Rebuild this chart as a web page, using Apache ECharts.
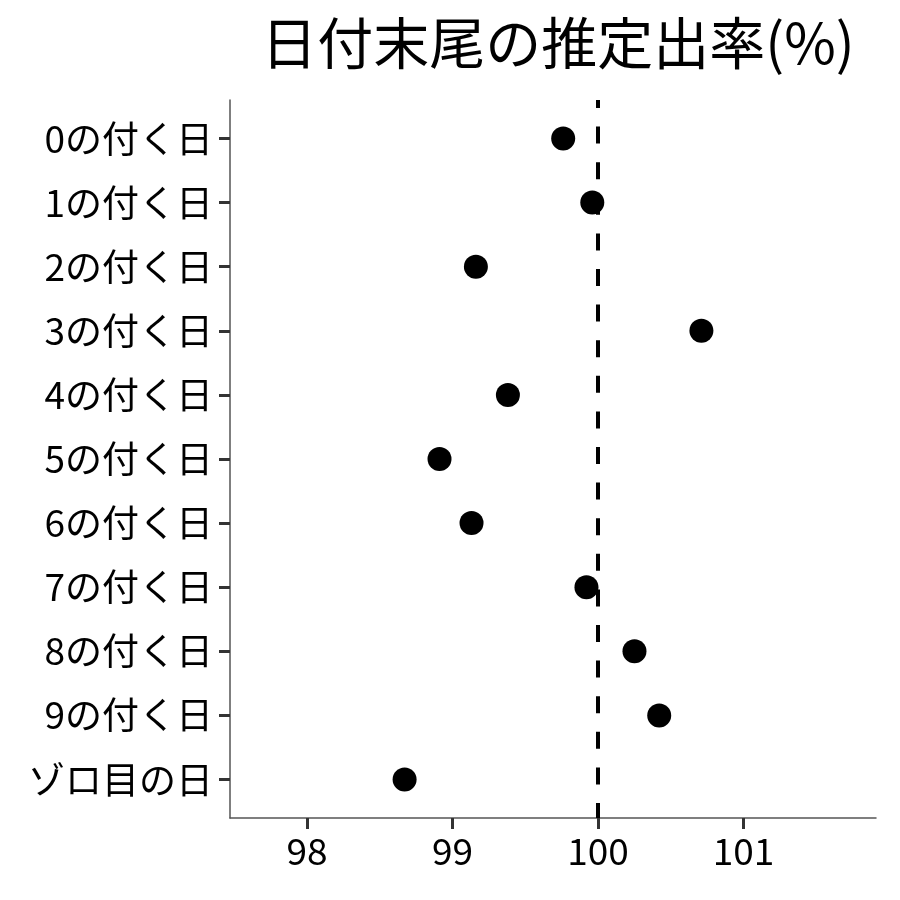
<!DOCTYPE html>
<html>
<head>
<meta charset="utf-8">
<script src="https://cdn.jsdelivr.net/npm/echarts@6/dist/echarts.min.js"></script>
<style>
	html, body { margin: 0; padding: 0; background: #fff; }
	#chart { width: 900px; height: 900px; }
</style>
</head>
<body>
<div id="chart"></div>
<script>
var categories = ['0の付く日', '1の付く日', '2の付く日', '3の付く日', '4の付く日',
	'5の付く日', '6の付く日', '7の付く日', '8の付く日', '9の付く日', 'ゾロ目の日'];
var rates = [99.76, 99.96, 99.16, 100.71, 99.38, 98.91, 99.13, 99.92, 100.25, 100.42, 98.67];
var xTicks = [98, 99, 100, 101];
var refValue = 100;

var font = '"Noto Sans CJK JP", "Noto Sans", sans-serif';

function drawChart(divId) {
	var myChart = echarts.init(document.getElementById(divId), null, {renderer: 'canvas'});

	var points = [];
	var idx = [];
	for (var i in categories) {
		points.push([rates[i], +i]);
		idx.push(+i);
	}

	myChart.setOption({
		animation: false,
		title: {
			text: '日付末尾の推定出率(%)',
			left: 553,
			textAlign: 'center',
			top: 10,
			textStyle: { fontFamily: font, fontSize: 56, fontWeight: 'normal', color: '#000' }
		},
		grid: { left: 230, right: 24, top: 100, bottom: 82 },
		xAxis: {
			type: 'value',
			min: 97.47,
			max: 101.91,
			splitLine: { show: false },
			axisLine: { onZero: false, lineStyle: { color: '#555', width: 1.5 } },
			axisTick: { customValues: xTicks, length: 11, lineStyle: { color: '#333', width: 3 } },
			axisLabel: {
				customValues: xTicks,
				margin: 14,
				fontFamily: font, fontSize: 37, color: '#000'
			}
		},
		yAxis: {
			type: 'value',
			inverse: true,
			min: -0.6,
			max: 10.6,
			splitLine: { show: false },
			axisLine: { show: true, onZero: false, lineStyle: { color: '#555', width: 1.5 } },
			axisTick: { show: true, customValues: idx, length: 11, lineStyle: { color: '#333', width: 3 } },
			axisLabel: {
				customValues: idx,
				margin: 17,
				fontFamily: font, fontSize: 37, color: '#000',
				formatter: function (v) { return categories[Math.round(v)]; }
			}
		},
		series: [{
			type: 'scatter',
			data: points,
			symbolSize: 24,
			itemStyle: { color: '#000', opacity: 1 },
			markLine: {
				silent: true,
				symbol: 'none',
				label: { show: false },
				lineStyle: { color: '#000', width: 4, type: [17, 18.6], dashOffset: 9 },
				data: [{ xAxis: refValue }]
			}
		}]
	});

	return myChart;
}

drawChart('chart');
</script>
</body>
</html>
